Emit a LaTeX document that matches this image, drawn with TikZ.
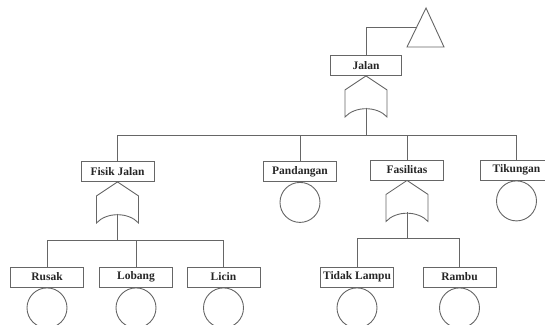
\documentclass[tikz,border=0pt]{standalone}
\usepackage{fontspec}
\setmainfont{Liberation Serif}
\usetikzlibrary{calc}
\begin{document}
\begin{tikzpicture}[x=1pt,y=-1pt,
  ln/.style={draw=black!60,line width=0.9pt},
  evbox/.style={ln,rectangle,minimum width=73pt,minimum height=20pt,inner sep=0pt,
    font=\fontsize{11.5}{13}\selectfont\bfseries,text=black!85},
  basic/.style={ln,circle,minimum size=40pt,inner sep=0pt}]
\useasboundingbox (0,0) rectangle (545,324);
\clip (0,0) rectangle (545,324);
% boxes
\node[evbox,minimum width=71pt] (jalan) at (366,65.5) {Jalan};
\node[evbox] (fisik) at (117.5,171.5) {Fisik Jalan};
\node[evbox] (pand) at (300,171.5) {Pandangan};
\node[evbox] (fas) at (407,170) {Fasilitas};
\node[evbox] (tik) at (516.5,170) {Tikungan};
\node[evbox] (rusak) at (47,277) {Rusak};
\node[evbox] (lobang) at (136,277) {Lobang};
\node[evbox] (licin) at (223.5,277) {Licin};
\node[evbox] (tidak) at (357,277) {Tidak Lampu};
\node[evbox] (rambu) at (459.5,277) {Rambu};
% basic events
\foreach \b in {pand,tik,rusak,lobang,licin,tidak,rambu}
  \node[basic,anchor=north] (c\b) at (\b.south) {};
% gates
\newcommand\orgatedraw[2]{%
  \coordinate (#2top) at (#1);
  \draw[ln] (#1) -- ++(-21,14) -- ++(0,27)
     .. controls ++(10,-11) and ++(-10,-11) .. ++(42,0) -- ++(0,-27) -- cycle;
  \coordinate (#2bot) at ($(#1)+(0,32)$);}
\orgatedraw{jalan.south}{gj}
\orgatedraw{fisik.south}{gf}
\orgatedraw{fas.south}{gs}
% transfer triangle
\coordinate (tA) at (426,8);
\coordinate (tL) at (407,47);
\coordinate (tR) at (444,47);
\draw[ln] (tA) -- (tL) -- (tR) -- cycle;
\coordinate (tmid) at ($(tA)!0.5!(tL)$);
\draw[ln] (tmid) -| (jalan.north);
% connectors
\foreach \c in {fisik,pand,fas,tik}
  \draw[ln] (gjbot) -- ++(0,27) -| (\c.north);
\foreach \c in {rusak,lobang,licin}
  \draw[ln] (gfbot) -- ++(0,26) -| (\c.north);
\foreach \c in {tidak,rambu}
  \draw[ln] (gsbot) -- ++(0,26) -| (\c.north);
\end{tikzpicture}
\end{document}
